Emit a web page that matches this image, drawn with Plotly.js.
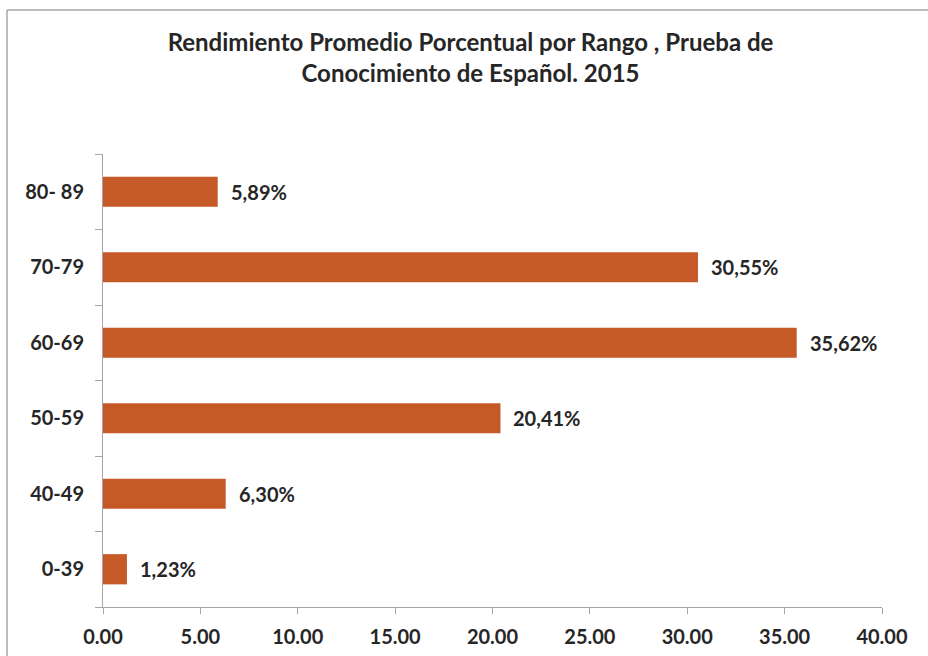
<!DOCTYPE html>
<html>
<head>
<meta charset="utf-8">
<script src="https://cdn.plot.ly/plotly-3.0.1.min.js"></script>
<style>
  html, body { margin: 0; padding: 0; background: #fff; }
  #chart { width: 928px; height: 656px; }
</style>
</head>
<body>
<div id="chart"></div>
<script>
const categories = ['0-39', '40-49', '50-59', '60-69', '70-79', '80- 89'];
const values = [1.23, 6.30, 20.41, 35.62, 30.55, 5.89];
const valueLabels = ['1,23%', '6,30%', '20,41%', '35,62%', '30,55%', '5,89%'];
const xTickValues = [0, 5, 10, 15, 20, 25, 30, 35, 40];
const titleText = 'Rendimiento Promedio Porcentual por Rango , Prueba de<br>Conocimiento de Español. 2015';

const FONT = 'Lato, "Open Sans", "DejaVu Sans", sans-serif';
const textColor = '#262626';
const axisColor = '#A6A6A6';

const W = 928, H = 656;
const m = { l: 103, r: 46, t: 154, b: 49 };
const pw = W - m.l - m.r, ph = H - m.t - m.b;
const px = x => (x - m.l) / pw;
const py = y => (H - m.b - y) / ph;

const trace = {
  type: 'bar',
  orientation: 'h',
  y: categories,
  x: values,
  marker: { color: '#C55A28' },
  hoverinfo: 'x+y'
};

const annotations = categories.map((c, i) => ({
  x: values[i], y: c, xref: 'x', yref: 'y',
  text: '<b>' + valueLabels[i] + '</b>',
  showarrow: false, xanchor: 'left', yanchor: 'middle',
  xshift: 11,
  font: { family: FONT, size: 20, color: textColor }
}));

const layout = {
  width: W, height: H,
  margin: m,
  paper_bgcolor: '#ffffff',
  plot_bgcolor: '#ffffff',
  showlegend: false,
  bargap: 0.6,
  title: {
    text: '<b>' + titleText + '</b>',
    font: { family: FONT, size: 24, color: textColor },
    x: 0.507, xanchor: 'center',
    y: 1 - 51 / H, yanchor: 'top', yref: 'container'
  },
  xaxis: {
    range: [0, 40],
    tickvals: xTickValues,
    tickformat: '.2f',
    ticks: 'outside', ticklen: 6, tickcolor: axisColor, tickwidth: 1,
    showline: true, linecolor: axisColor, linewidth: 1,
    showgrid: false, zeroline: false,
    tickfont: { family: FONT, size: 20, color: textColor, weight: 'bold' },
    ticklabelstandoff: 6,
    fixedrange: true
  },
  yaxis: {
    type: 'category',
    ticks: 'outside', ticklen: 7, tickcolor: axisColor, tickwidth: 1,
    tickson: 'boundaries',
    showline: true, linecolor: axisColor, linewidth: 1,
    showgrid: false, zeroline: false,
    tickfont: { family: FONT, size: 20, color: textColor, weight: 'bold' },
    ticklabelstandoff: 14,
    fixedrange: true
  },
  annotations: annotations,
  shapes: [
    { type: 'line', xref: 'paper', yref: 'paper', x0: px(7), x1: px(7), y0: py(10), y1: py(H + 5), line: { color: '#A6A6A6', width: 1.5 } },
    { type: 'line', xref: 'paper', yref: 'paper', x0: px(7), x1: px(W + 5), y0: py(10), y1: py(10), line: { color: '#A6A6A6', width: 1.5 } }
  ]
};

Plotly.newPlot('chart', [trace], layout, { staticPlot: true, displayModeBar: false });
</script>
</body>
</html>
